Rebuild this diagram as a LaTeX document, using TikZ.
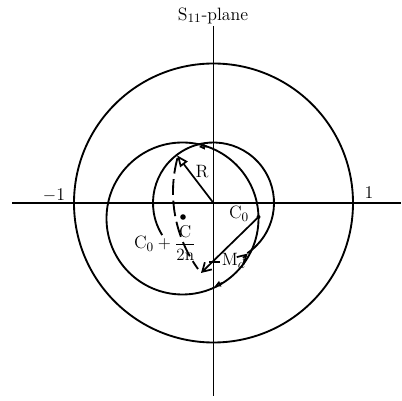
\documentclass[tikz,border=0pt]{standalone}
\usetikzlibrary{arrows.meta,calc}
\begin{document}
\begin{tikzpicture}[x=0.7pt,y=0.7pt, line width=1.2pt,
  lbl/.style={font=\fontsize{12.5}{14}\selectfont, inner sep=0pt},
  curve/.style={line width=1.3pt},
  axisline/.style={line width=1.1pt},
  opentip/.style={-{Triangle[open,length=8pt,width=6.5pt]}},
  smalltip/.style={-{Triangle[open,length=4pt,width=4pt]}},
  solidtip/.style={-{Straight Barb[length=6pt,width=7pt]}}]
\useasboundingbox (0,0) rectangle (402,401);
% origin and axes
\coordinate (O) at (213.5,198);
\coordinate (xl) at (12,198);
\coordinate (xr) at (401,198);
\coordinate (yt) at (213.5,375);
\coordinate (yb) at (213.5,5);
\draw[axisline] (xl) -- (xr);
\draw[axisline] (yt) -- (yb);
\node[lbl] (title) at (213,385.5) {S$_{11}$-plane};
% unit circle
\draw[curve] (O) circle[radius=139.5];
\node[lbl] (m1) at (54,206) {$-$1};
\node[lbl] (p1) at (369,208) {1};
% large inner circle centred at C0 + C/2n
\coordinate (Lc) at (182.5,182.5);
\draw[curve] (Lc) circle[radius=76];
\fill (183,184) circle[radius=2.8];
% circle of radius R about the origin (open arc)
\coordinate (Rstart) at ($(O)+(212:60.5)$);
\coordinate (Rend) at ($(O)+(-56:61)$);
\draw[curve] (Rstart) arc[start angle=212, end angle=-56, radius=60.5];
% R radius
\coordinate (Rtip) at ($(O)+(127.4:60)$);
\draw[opentip] (O) -- (Rtip);
\node[lbl] (Rl) at (202,229) {R};
% dashed locus
\coordinate (Dc) at (304,209);
\coordinate (Dstart) at ($(Dc)+(165:131)$);
\draw[curve, dash pattern=on 11pt off 4pt] (Dstart) arc[start angle=165, end angle=216, radius=131];
% C0 vector
\coordinate (C0pt) at (258.5,184);
\coordinate (C0end) at (201,128);
\fill (C0pt) circle[radius=2];
\draw[solidtip] (C0pt) -- (C0end);
\node[lbl] (C0l) at (239,187) {C$_0$};
\node[lbl] (Cl) at (165,158) {C$_0+{\displaystyle\frac{\mathrm{C}}{2\mathrm{n}}}$};
% M_d
\coordinate (Ma) at (209,139);
\coordinate (Mb) at (220,139);
\draw (Ma) -- (Mb);
\node[lbl, anchor=west] (Md) at (221,140) {M$_{d}$};
\coordinate (Mc) at (243,143);
\draw[solidtip] (Mc) -- (Rend);
% direction ticks
\coordinate (t1a) at (207,254.6);
\coordinate (t1b) at (199,254);
\draw[smalltip] (t1a) -- (t1b);
\coordinate (t2a) at (222,118);
\coordinate (t2b) at (215,115);
\draw[smalltip] (t2a) -- (t2b);
\end{tikzpicture}
\end{document}
